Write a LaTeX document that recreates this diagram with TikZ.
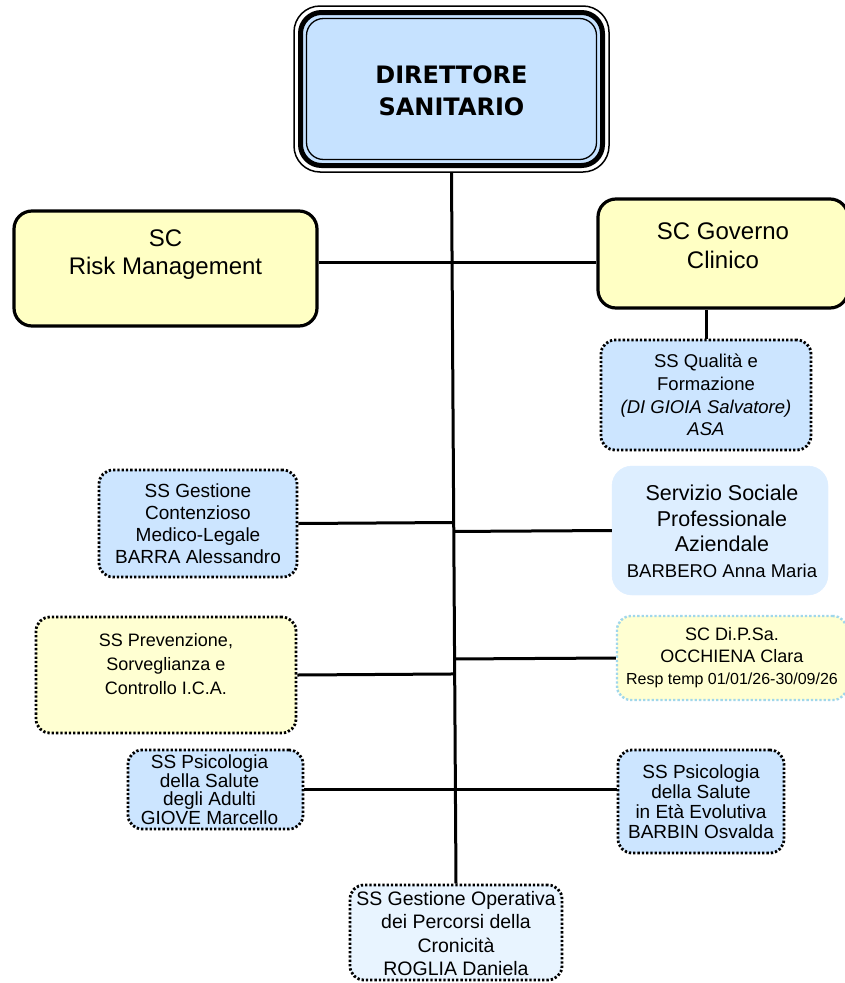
\documentclass[tikz,border=0pt]{standalone}
\usepackage{fontspec}
\setmainfont{Liberation Sans}
\newfontfamily\dejab{DejaVu Sans}
\usetikzlibrary{calc}
\newcommand\fsz[2]{\fontsize{#1}{#2}\selectfont}
\definecolor{dsblue}{HTML}{C6E2FF}
\definecolor{ssblue}{HTML}{CCE5FF}
\definecolor{socblue}{HTML}{DDEEFF}
\definecolor{goblue}{HTML}{E8F4FF}
\definecolor{yel}{HTML}{FFFFC4}
\definecolor{yellite}{HTML}{FFFFD2}
\definecolor{dipborder}{HTML}{A0D7EB}
\begin{document}
\begin{tikzpicture}[x=1pt,y=-1pt,
  conn/.style={line width=3pt},
  unitbox/.style={draw, rounded corners=18pt, inner sep=0pt, line width=3.2pt},
  dotbox/.style={draw, rounded corners=14pt, inner sep=0pt, line width=2.8pt, dash pattern=on 2.3pt off 2pt},
  txt/.style={align=center, inner sep=0pt}]
\fill[white] (0,0) rectangle (845,983);
\useasboundingbox (0,0) rectangle (845,983);
\clip (0,0) rectangle (845,983);

% Direttore Sanitario (triple frame)
\node[draw, rounded corners=26pt, line width=1.5pt, minimum width=315pt, minimum height=166pt, inner sep=0pt] (DS) at (451.5,89) {};
\node[draw, fill=dsblue, rounded corners=21pt, line width=5pt, minimum width=302pt, minimum height=153pt, inner sep=0pt] (DSm) at (DS.center) {};
\node[draw, fill=dsblue, rounded corners=17pt, line width=1.3pt, minimum width=290pt, minimum height=141pt, inner sep=0pt] (DSi) at (DS.center) {};
\node[txt, font=\dejab\bfseries\fsz{24}{32}] (DSt) at ($(DSi.center)+(0,2)$) {DIRETTORE\\SANITARIO};

% Boxes
\node[unitbox, fill=yel, minimum width=303pt, minimum height=115pt] (RM) at (165.5,268.5) {};
\node[txt, font=\fsz{24}{28}] (RMt) at ($(RM.center)+(0,-14)$) {SC\\Risk Management};

\node[unitbox, fill=yel, minimum width=250pt, minimum height=109pt] (GC) at (723,253.5) {};
\node[txt, font=\fsz{24}{29}] (GCt) at ($(GC.center)+(0,-8)$) {SC Governo\\Clinico};

\node[dotbox, fill=ssblue, minimum width=210pt, minimum height=110pt] (QF) at (706,395) {};
\node[txt, font=\fsz{18.5}{22.7}] (QFt) at (QF.center) {SS Qualità e\\Formazione\\\textit{(DI GIOIA Salvatore)}\\\textit{ASA}};

\node[dotbox, fill=ssblue, minimum width=198pt, minimum height=107pt] (CONT) at (198,523.5) {};
\node[txt, font=\fsz{19}{22}] (CONTt) at (CONT.center) {SS Gestione\\Contenzioso\\Medico-Legale\\BARRA Alessandro};

\node[draw=socblue, fill=socblue, rounded corners=20pt, inner sep=0pt, minimum width=216pt, minimum height=129pt] (SOC) at (720,530.5) {};
\node[txt, font=\fsz{21.5}{25.5}] (SOCt) at ($(SOC.center)+(2,1)$) {Servizio Sociale\\Professionale\\Aziendale\\{\fsz{18.5}{23}BARBERO Anna Maria}};

\node[dotbox, fill=yellite, minimum width=260pt, minimum height=116pt] (PREV) at (166,675) {};
\node[txt, font=\fsz{18}{24}] (PREVt) at ($(PREV.center)+(0,-11)$) {SS Prevenzione,\\Sorveglianza e\\Controllo I.C.A.};

\node[draw=dipborder, fill=yellite, rounded corners=14pt, inner sep=0pt, line width=2.4pt, dash pattern=on 2.3pt off 2pt, minimum width=230pt, minimum height=84pt] (DIP) at (732,658) {};
\node[txt, font=\fsz{18}{22}] (DIPt) at (DIP.center) {SC Di.P.Sa.\\OCCHIENA Clara\\{\fsz{16}{22}Resp temp 01/01/26-30/09/26}};

\node[dotbox, fill=ssblue, minimum width=175pt, minimum height=79pt] (PSA) at (215.5,789.5) {};
\node[txt, font=\fsz{19}{18.5}] (PSAt) at ($(PSA.center)+(-6,0)$) {SS Psicologia\\della Salute\\degli Adulti\\GIOVE Marcello};

\node[dotbox, fill=ssblue, minimum width=166pt, minimum height=103pt] (PSE) at (701,801.5) {};
\node[txt, font=\fsz{19}{20}] (PSEt) at (PSE.center) {SS Psicologia\\della Salute\\in Età Evolutiva\\BARBIN Osvalda};

\node[dotbox, fill=goblue, minimum width=212pt, minimum height=95pt] (GO) at (456,932.5) {};
\node[txt, font=\fsz{19.5}{23.5}] (GOt) at ($(GO.center)+(0,1)$) {SS Gestione Operativa\\dei Percorsi della\\Cronicità\\ROGLIA Daniela};

% Connectors
\coordinate (h1) at (452,262);
\draw[conn] (DS.south) -- (GO.north);
\draw[conn] (h1 -| RM.east) -- (h1 -| GC.west);
\draw[conn] (QF.north) -- (QF.north |- GC.south);
\draw[conn] (CONT.east) -- ($(DS.south)!(CONT.east)!(GO.north)$);
\draw[conn] (SOC.west) -- ($(DS.south)!(SOC.west)!(GO.north)$);
\draw[conn] (PREV.east) -- ($(DS.south)!(PREV.east)!(GO.north)$);
\draw[conn] (DIP.west) -- ($(DS.south)!(DIP.west)!(GO.north)$);
\draw[conn] (PSA.east) -- (PSA.east -| PSE.west);
\end{tikzpicture}
\end{document}
